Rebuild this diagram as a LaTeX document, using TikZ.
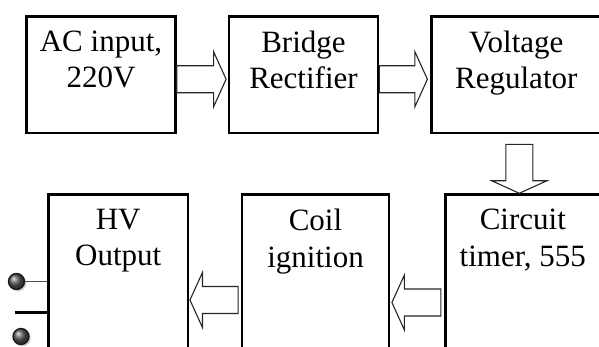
\documentclass[tikz,border=0pt]{standalone}
\usepackage{fontspec}
\setmainfont{Liberation Serif}
\usetikzlibrary{calc, shadows}
\tikzset{
  blk/.style={rectangle, draw=black, line width=2.8pt,
    minimum width=149pt, minimum height=116.5pt, inner sep=0pt},
  lbl/.style={anchor=north, yshift=-15.5pt, inner sep=0pt, align=center,
    font=\fontsize{31}{36.5}\selectfont},
  fatarrow/.style={draw=black!85, fill=white, line width=1.1pt, line join=miter,
    to path={let \p1=(\tikztostart), \p2=(\tikztotarget),
      \n1={atan2(\y2-\y1,\x2-\x1)}, \n2={veclen(\x2-\x1,\y2-\y1)} in
      ([shift={(\p1)},rotate=\n1]0,13.5)
      -- ([shift={(\p1)},rotate=\n1]{\n2-12.5},13.5)
      -- ([shift={(\p1)},rotate=\n1]{\n2-12.5},27.5)
      -- ([shift={(\p1)},rotate=\n1]\n2,0)
      -- ([shift={(\p1)},rotate=\n1]{\n2-12.5},-27.5)
      -- ([shift={(\p1)},rotate=\n1]{\n2-12.5},-13.5)
      -- ([shift={(\p1)},rotate=\n1]0,-13.5) -- cycle}},
  term/.style={circle, minimum size=16pt, inner sep=0pt, draw=black!90,
    line width=1.3pt, ball color=black!65,
    circular drop shadow={shadow xshift=1.3pt, shadow yshift=-1.3pt, opacity=0.35}},
  wire/.style={draw=black!70, line width=1.2pt},
  bar/.style={draw=black, line width=2.8pt}
}
\begin{document}
\begin{tikzpicture}[x=1pt, y=-1pt]
  \useasboundingbox (0,0) rectangle (599,347);
  \clip (0,0) rectangle (599,347);
  % Top row
  \node[blk, label={[lbl]north:{AC input,\\220V}}] (ac) at (101,74.75) {};
  \node[blk, label={[lbl]north:{Bridge\\Rectifier}}] (bridge) at (303.5,74.75) {};
  \node[blk, minimum width=170pt, label={[lbl]north:{Voltage\\Regulator}}] (volt) at (516.3,74.75) {};
  % Bottom row
  \node[blk, minimum width=139.7pt, minimum height=210.6pt, label={[lbl]north:{HV\\Output}}] (hv) at (118.2,300) {};
  \node[blk, minimum width=147pt, minimum height=210.6pt, label={[lbl]north:{Coil\\ignition}}] (coil) at (315.5,300) {};
  \node[blk, minimum width=155pt, minimum height=210.6pt, label={[lbl]north:{Circuit\\timer, 555}}] (timer) at (522.8,300) {};
  % Block arrows
  \draw[fatarrow] ([yshift=-4.5pt]ac.east) to ([xshift=-1.5pt,yshift=-4.5pt]bridge.west);
  \draw[fatarrow] ([yshift=-4.5pt]bridge.east) to ([xshift=-2.5pt,yshift=-4.5pt]volt.west);
  \coordinate (dn) at ([xshift=3pt,yshift=-10pt]volt.south);
  \draw[fatarrow] (dn) to (dn |- timer.north);
  \draw[fatarrow] ([xshift=-2.5pt]coil.west) to ([xshift=0.5pt]hv.east);
  \draw[fatarrow] ([xshift=-3pt,yshift=-2.5pt]timer.west) to ([xshift=1.5pt,yshift=-2.5pt]coil.east);
  % Output terminals
  \node[term] (t1) at (16.5,281.5) {};
  \node[term] (t2) at (21,336.5) {};
  \draw[wire] (t1) -- (t1 -| hv.west);
  \coordinate (gnd) at (15,312.5);
  \draw[bar] (gnd) -- (gnd -| hv.west);
\end{tikzpicture}
\end{document}
